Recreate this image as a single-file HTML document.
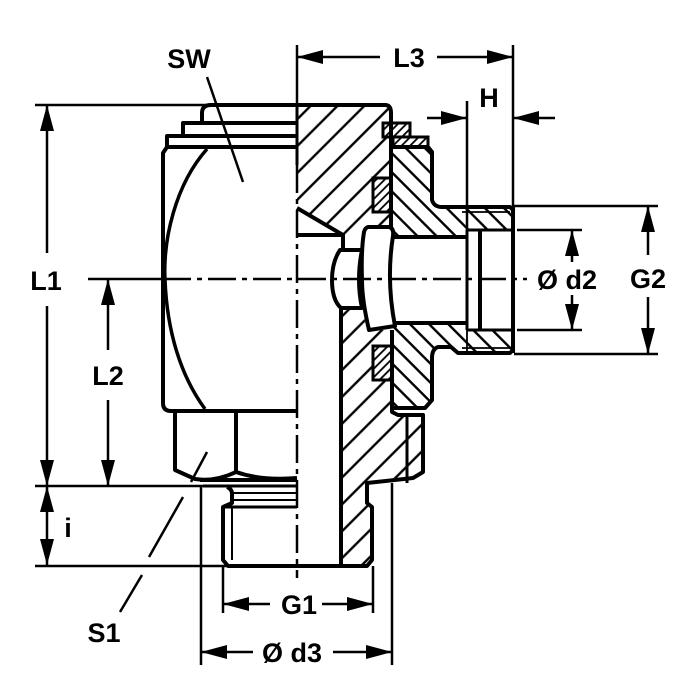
<!DOCTYPE html>
<html><head><meta charset="utf-8"><style>
html,body{margin:0;padding:0;background:#fff;}
svg{display:block;}
text{font-family:"Liberation Sans",Arial,sans-serif;font-weight:bold;font-size:27px;fill:#000;}
</style></head><body>
<svg width="700" height="700" viewBox="0 0 700 700" xmlns="http://www.w3.org/2000/svg">
<defs>
<pattern id="hb" width="19" height="19" patternUnits="userSpaceOnUse" patternTransform="rotate(45)"><line x1="9.5" y1="-1" x2="9.5" y2="20" stroke="#000" stroke-width="2.4"/></pattern>
<pattern id="hs" width="13.5" height="13.5" patternUnits="userSpaceOnUse" patternTransform="rotate(-45)"><line x1="6.75" y1="-1" x2="6.75" y2="14.5" stroke="#000" stroke-width="2.4"/></pattern>
<pattern id="hd" width="6" height="6" patternUnits="userSpaceOnUse" patternTransform="rotate(45)"><line x1="3" y1="-1" x2="3" y2="7" stroke="#000" stroke-width="1.8"/></pattern>
</defs>
<rect width="700" height="700" fill="#fff"/>

<!-- hatched regions -->
<path d="M297,105 L385,105 Q391,105 391,113 L391,178 L373,178 L373,212 L391,212 L391,227 L368,227 Q363,228 363,235 L343,235 L297,208 Z" fill="url(#hb)"/>
<path d="M341,307 L362,308 L367,330 L392,330 L392,346 L373,346 L373,380 L392,380 L392,412 L398,415 L423,415 L423,472 L413,478 L367,483 L367,503 L372,507 L372,560 L367,566 L341,566 Z" fill="url(#hb)"/>
<path d="M391,147 L428,147 L432,152 L432,200 Q434,207 442,207 L510,207 L514,211 L514,230 L467,230 L467,237 L393,237 L391,232 Z" fill="url(#hs)"/>
<path d="M395,323 L467,323 L467,330 L514,330 L514,349 L510,353 L458,353 L451,347 L438,347 Q432,349 432,358 L432,400 L425,408 L392,408 L392,330 Z" fill="url(#hs)"/>
<polygon points="298,210 341,236 298,236" fill="#fff"/>

<!-- seals -->
<g stroke="#000" stroke-width="3">
<rect x="383" y="123" width="27" height="14" fill="#fff"/>
<rect x="383" y="123" width="27" height="14" fill="url(#hd)"/>
<rect x="393" y="137" width="35" height="10" fill="#fff"/>
<rect x="393" y="137" width="35" height="10" fill="url(#hd)"/>
<rect x="373" y="178" width="18" height="34" fill="#fff"/>
<rect x="373" y="178" width="18" height="34" fill="url(#hd)"/>
<rect x="373" y="346" width="19" height="34" fill="#fff"/>
<rect x="373" y="346" width="19" height="34" fill="url(#hd)"/>
</g>

<!-- left view outlines -->
<g fill="none" stroke="#000" stroke-width="4" stroke-linejoin="round">
<path d="M202,123 L202,113 Q202,105 211,105 L385,105 Q391,105 391,113 L391,123"/>
<path d="M183,136 L183,123 L297,123"/>
<path d="M167,147 L167,136 L297,136"/>
<path d="M297,147 L167,147 L163,153 L163,403 Q163,411 171,411 L297,411"/>
<path d="M207,149 C175,185 163,240 165,280 C167,330 180,375 205,409" stroke-width="3.5"/>
<path d="M175,411 L175,470 L195,479 Q215,482 236,472 Q262,481 297,478"/>
<path d="M236,411 L236,472"/>
<path d="M200,480 L297,480"/>
<path d="M203,486 L297,486" stroke-width="3"/>
<path d="M227,487 Q232,489 232,494 L232,503 L223,507 L223,560 L228,566 L297,566"/>
<path d="M223,507 L297,507" stroke-width="3"/>
</g>
<g fill="none" stroke="#000" stroke-width="2">
<path d="M232,507 L232,560"/>
<path d="M232,493 L297,493"/>
<path d="M232,500 L297,500"/>
</g>

<!-- section outlines -->
<g fill="none" stroke="#000" stroke-width="4" stroke-linejoin="round">
<path d="M391,113 L391,228"/>
<path d="M297,208 L343,235 L343,249"/>
<path d="M297,235 L343,235"/>
<path d="M340,250 Q332,262 332,280 Q332,300 341,308 L362,308 Q356,280 362,250 Z"/>
<path d="M368,227 L389,227 Q394,228 393,236 Q386,280 395,326 L369,330 Q362,300 362,280 Q361,250 364,232 Q365,228 368,227 Z"/>
<path d="M341,307 L341,566"/>
<path d="M393,237 L467,237"/>
<path d="M395,323 L467,323"/>
<path d="M480,230 L480,330"/>
<path d="M513,207 L513,353"/>
<path d="M391,147 L428,147 L432,152 L432,200 Q434,207 442,207 L510,207 L514,211"/>
<path d="M514,349 L510,353 L458,353 L451,347 L438,347 Q432,349 432,358 L432,400 L425,408 L392,408"/>
<path d="M392,330 L392,412 L398,415 L423,415 L423,472 L413,478 L367,483 L367,503 L372,507 L372,560 L367,566 L297,566"/>
</g>
<g fill="none" stroke="#000" stroke-width="3">
<path d="M467,230 L467,330"/>
<path d="M467,230 L513,230"/>
<path d="M467,330 L513,330"/>
<path d="M407,415 L407,483"/>
<path d="M297,105 L297,165"/>
</g>
<g fill="none" stroke="#000" stroke-width="1.8">
<path d="M462,212 L510,212"/>
<path d="M462,348 L510,348"/>
<path d="M467,330 L467,353"/>
</g>

<!-- center lines -->
<g fill="none" stroke="#000" stroke-width="2.5">
<path d="M297,165 L297,578" stroke-dasharray="28 6 5 6"/>
<path d="M163,279 L527,279" stroke-dasharray="28 6 5 6"/>
<path d="M88,279 L163,279"/>
</g>

<!-- dimension / extension lines -->
<g fill="none" stroke="#000" stroke-width="2.5">
<path d="M35,105 L212,105"/>
<path d="M35,486 L203,486"/>
<path d="M35,566 L228,566"/>
<path d="M47,105 L47,253 M47,306 L47,565"/>
<path d="M108,279 L108,350 M108,400 L108,486"/>
<path d="M297,45 L297,105"/>
<path d="M513,45 L513,207"/>
<path d="M297,57 L380,57 M437,57 L513,57"/>
<path d="M467,101 L467,230"/>
<path d="M427,118 L467,118 M513,118 L555,118"/>
<path d="M514,206 L658,206 M514,354 L658,354"/>
<path d="M648,206 L648,255 M648,297 L648,354"/>
<path d="M517,230 L582,230 M517,330 L582,330"/>
<path d="M572,230 L572,262 M572,295 L572,330"/>
<path d="M223,566 L223,613 M373,566 L373,613"/>
<path d="M223,604 L270,604 M322,604 L373,604"/>
<path d="M201,486 L201,665 M392,483 L392,665"/>
<path d="M201,652 L253,652 M333,652 L392,652"/>
<path d="M207,77 L243,182"/>
<path d="M207,452 L191,482 M183,497 L149,557 M142,575 L120,612"/>
</g>

<!-- arrowheads -->
<g fill="#000">
<polygon points="47,105 40,131 54,131"/>
<polygon points="47,486 40,460 54,460"/>
<polygon points="47,486 40,512 54,512"/>
<polygon points="47,565 40,539 54,539"/>
<polygon points="108,279 101,305 115,305"/>
<polygon points="108,486 101,460 115,460"/>
<polygon points="297,57 323,50 323,64"/>
<polygon points="513,57 487,50 487,64"/>
<polygon points="467,118 441,111 441,125"/>
<polygon points="513,118 539,111 539,125"/>
<polygon points="648,206 641,232 655,232"/>
<polygon points="648,354 641,328 655,328"/>
<polygon points="572,230 565,256 579,256"/>
<polygon points="572,330 565,304 579,304"/>
<polygon points="223,604 249,597 249,611"/>
<polygon points="373,604 347,597 347,611"/>
<polygon points="201,652 227,645 227,659"/>
<polygon points="392,652 366,645 366,659"/>
</g>

<!-- labels -->
<text x="189" y="68" text-anchor="middle">SW</text>
<text x="409" y="67" text-anchor="middle">L3</text>
<text x="489" y="107" text-anchor="middle">H</text>
<text x="46" y="290" text-anchor="middle">L1</text>
<text x="108" y="385" text-anchor="middle">L2</text>
<text x="68" y="537" text-anchor="middle">i</text>
<text x="648" y="288" text-anchor="middle">G2</text>
<text x="567" y="289" text-anchor="middle">Ø d2</text>
<text x="299" y="614" text-anchor="middle">G1</text>
<text x="292" y="662" text-anchor="middle">Ø d3</text>
<text x="104" y="642" text-anchor="middle">S1</text>
</svg>
</body></html>
